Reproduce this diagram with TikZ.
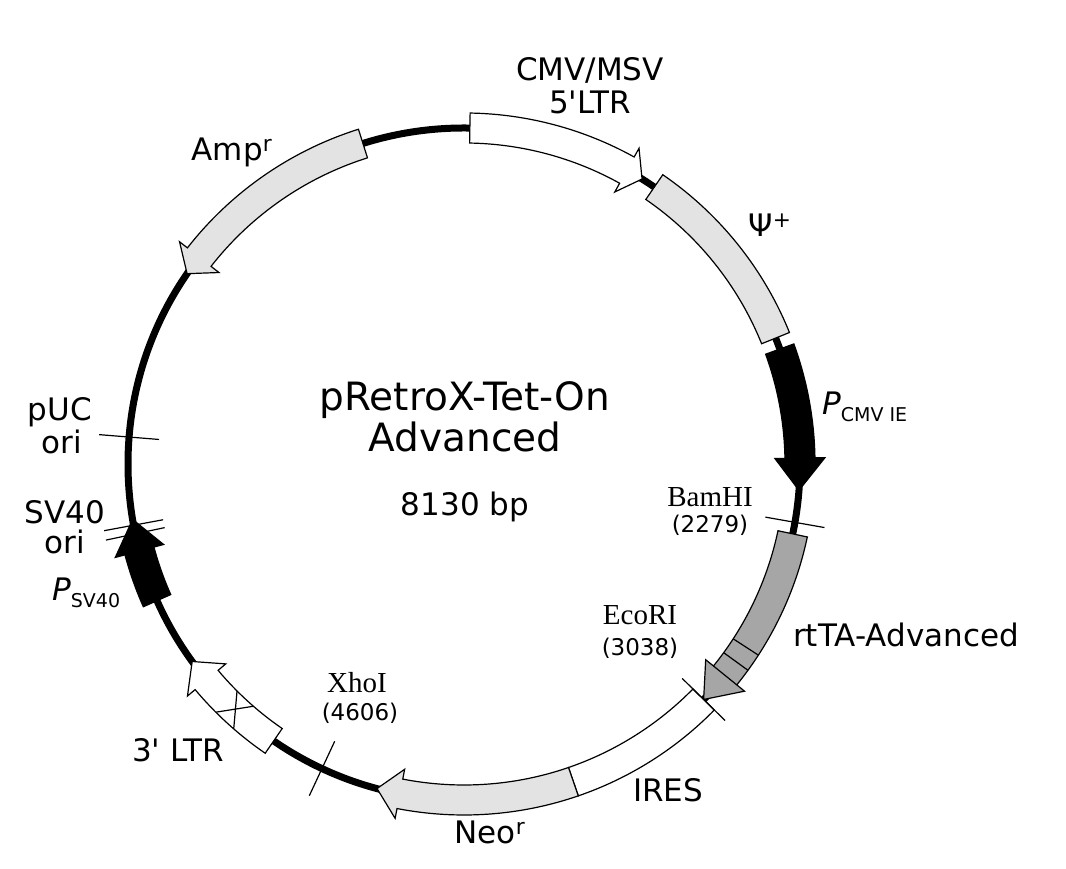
\documentclass[tikz,border=0pt]{standalone}
\usepackage{fontspec}
\setmainfont{DejaVu Sans}
\newfontfamily\serif{Liberation Serif}
\begin{document}
\begin{tikzpicture}[x=1pt,y=1pt,
  lab/.style={font=\fontsize{31}{32}\selectfont, inner sep=0pt},
  big/.style={font=\fontsize{39}{40}\selectfont, inner sep=0pt},
  enz/.style={font=\serif\fontsize{29}{30}\selectfont, inner sep=0pt},
  num/.style={font=\fontsize{23}{24}\selectfont, inner sep=0pt},
  feat/.style={draw=black, line width=1.2pt, line join=miter},
  tick/.style={line width=1.2pt}]
\useasboundingbox (0,0) rectangle (1066,869);
\definecolor{lg}{gray}{0.89}
\definecolor{dg}{gray}{0.65}
\coordinate (C) at (464,405);
\draw[line width=7pt] (C) circle[radius=336];
\newcommand\featA[4]{\fill[#4, feat, shift={(C)}] (#1:351) arc[start angle=#1, end angle=#2, radius=351] -- (#2:361) -- (#3:336) -- (#2:311) -- (#2:321) arc[start angle=#2, end angle=#1, radius=321] -- cycle;}
\newcommand\boxF[3]{\fill[#3, feat, shift={(C)}] (#1:351) arc[start angle=#1, end angle=#2, radius=351] -- (#2:321) arc[start angle=#2, end angle=#1, radius=321] -- cycle;}
\featA{89}{61}{58}{white}
\boxF{55.5}{22}{lg}
\featA{20}{1}{-4.5}{black}
\featA{-12}{-39}{-44.5}{dg}
\boxF{-44.5}{-71}{white}
\featA{-71}{-101}{-105}{lg}
\featA{-124.5}{-140}{-144}{white}
\featA{-156}{-165}{-170.5}{black}
\featA{107.5}{142}{145.5}{lg}
\foreach \a in {-33,-36,-39}{\draw[feat, shift={(C)}] (\a:321) -- (\a:351);}
\draw[feat, shift={(C)}] (-131:321) -- (-135:351) (-135:321) -- (-131:351);
\foreach \a in {-10, -44.5, -115, 175.4, -169.5, -168}{
  \draw[tick, shift={(C)}] (\a:306) -- (\a:366);}
\node[lab] (l1) at (590,799) {CMV/MSV};
\node[lab] (l2) at (590,767) {5\textquotesingle LTR};
\node[lab] (amp) at (232,717) {Amp\textsuperscript{r}};
\node[lab] (psi) at (770,644) {Ψ\textsuperscript{+}};
\node[lab, anchor=west] (pcmv) at (822,462) {\textit{P}\raisebox{-7pt}{\fontsize{19}{20}\selectfont CMV IE}};
\node[enz] (bam) at (710,372) {BamHI};
\node[num] (bamn) at (710,344) {(2279)};
\node[lab] (rtta) at (906,234) {rtTA-Advanced};
\node[enz] (eco) at (640,254) {EcoRI};
\node[num] (econ) at (640,221) {(3038)};
\node[lab] (ires) at (668,79) {IRES};
\node[lab] (neo) at (490,37) {Neo\textsuperscript{r}};
\node[enz] (xho) at (357,186) {XhoI};
\node[num] (xhon) at (360,156) {(4606)};
\node[lab] (ltr3) at (178,119) {3\textquotesingle\ LTR};
\node[lab, anchor=west] (psv) at (52,276) {\textit{P}\raisebox{-7pt}{\fontsize{19}{20}\selectfont SV40}};
\node[lab] (sv1) at (65,357) {SV40};
\node[lab] (sv2) at (65,327) {ori};
\node[lab] (puc1) at (60,457) {pUC};
\node[lab] (puc2) at (62,427) {ori};
\node[big] (t1) at (465,469) {pRetroX-Tet-On};
\node[big] (t2) at (465,432) {Advanced};
\node[lab] (t3) at (465,362) {8130 bp};
\end{tikzpicture}
\end{document}
